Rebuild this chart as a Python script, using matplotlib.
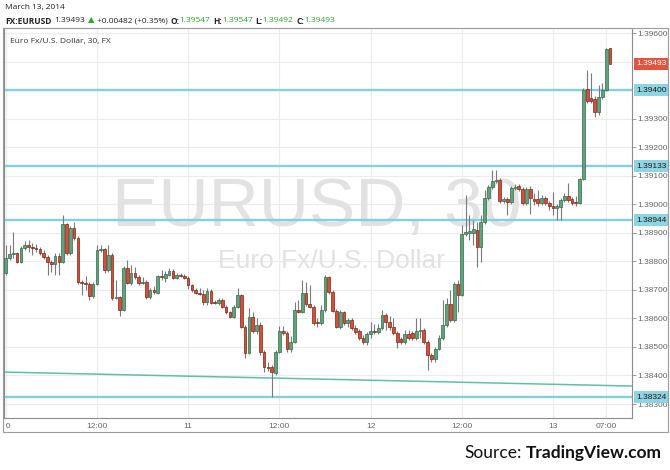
import matplotlib
matplotlib.use("Agg")
import matplotlib.pyplot as plt
import numpy as np
from matplotlib.patches import Rectangle
from matplotlib.lines import Line2D
from matplotlib.transforms import Bbox, TransformedBbox, blended_transform_factory

# 30 minute EUR/USD candles, 10 Mar 00:00 -> 13 Mar 07:30
opens = [
    1.38759, 1.38812, 1.38826, 1.38829, 1.38798, 1.38847, 1.38857, 1.38850, 1.38847, 1.38843,
    1.38829, 1.38815, 1.38798, 1.38791, 1.38819, 1.38798, 1.38931, 1.38829, 1.38917, 1.38882,
    1.38728, 1.38724, 1.38721, 1.38678, 1.38721, 1.38840, 1.38843, 1.38770, 1.38822, 1.38671,
    1.38675, 1.38629, 1.38777, 1.38724, 1.38759, 1.38745, 1.38724, 1.38728, 1.38675, 1.38700,
    1.38689, 1.38749, 1.38742, 1.38752, 1.38766, 1.38742, 1.38752, 1.38749, 1.38742, 1.38717,
    1.38700, 1.38689, 1.38685, 1.38657, 1.38696, 1.38657, 1.38654, 1.38664, 1.38640, 1.38622,
    1.38605, 1.38640, 1.38682, 1.38570, 1.38479, 1.38605, 1.38556, 1.38577, 1.38482, 1.38430,
    1.38430, 1.38409, 1.38482, 1.38556, 1.38549, 1.38493, 1.38517, 1.38629, 1.38622, 1.38689,
    1.38650, 1.38640, 1.38587, 1.38584, 1.38629, 1.38745, 1.38693, 1.38626, 1.38570, 1.38622,
    1.38584, 1.38594, 1.38566, 1.38556, 1.38531, 1.38517, 1.38545, 1.38556, 1.38552, 1.38566,
    1.38612, 1.38587, 1.38570, 1.38549, 1.38528, 1.38517, 1.38545, 1.38549, 1.38531, 1.38556,
    1.38559, 1.38517, 1.38472, 1.38458, 1.38493, 1.38531, 1.38577, 1.38650, 1.38594, 1.38721,
    1.38682, 1.38896, 1.38899, 1.38899, 1.38910, 1.38850, 1.38938, 1.39022, 1.39060, 1.39081,
    1.39085, 1.39011, 1.39018, 1.39008, 1.39057, 1.39064, 1.39053, 1.39004, 1.39053, 1.39018,
    1.39018, 1.39004, 1.39022, 1.39004, 1.38994, 1.38987, 1.38990, 1.39015, 1.39029, 1.39018,
    1.39008, 1.39004, 1.39088, 1.39404, 1.39372, 1.39369, 1.39323, 1.39376, 1.39400, 1.39547,
]
highs = [
    1.38857, 1.38857, 1.38903, 1.38833, 1.38854, 1.38871, 1.38875, 1.38864, 1.38861, 1.38850,
    1.38840, 1.38822, 1.38805, 1.38829, 1.38829, 1.38962, 1.38934, 1.38924, 1.38938, 1.38889,
    1.38735, 1.38749, 1.38728, 1.38728, 1.38857, 1.38857, 1.38847, 1.38857, 1.38829, 1.38735,
    1.38678, 1.38784, 1.38805, 1.38787, 1.38780, 1.38752, 1.38745, 1.38735, 1.38707, 1.38714,
    1.38752, 1.38770, 1.38766, 1.38777, 1.38773, 1.38759, 1.38759, 1.38756, 1.38749, 1.38721,
    1.38707, 1.38707, 1.38700, 1.38707, 1.38703, 1.38664, 1.38671, 1.38671, 1.38647, 1.38626,
    1.38647, 1.38707, 1.38685, 1.38577, 1.38636, 1.38622, 1.38601, 1.38587, 1.38489, 1.38447,
    1.38437, 1.38489, 1.38573, 1.38573, 1.38556, 1.38538, 1.38657, 1.38664, 1.38735, 1.38728,
    1.38717, 1.38647, 1.38601, 1.38647, 1.38752, 1.38749, 1.38700, 1.38633, 1.38629, 1.38626,
    1.38601, 1.38601, 1.38577, 1.38563, 1.38542, 1.38552, 1.38587, 1.38580, 1.38580, 1.38629,
    1.38619, 1.38608, 1.38601, 1.38556, 1.38535, 1.38559, 1.38559, 1.38556, 1.38601, 1.38601,
    1.38566, 1.38524, 1.38479, 1.38500, 1.38542, 1.38664, 1.38671, 1.38700, 1.38728, 1.38735,
    1.38927, 1.39032, 1.38962, 1.38945, 1.38938, 1.38962, 1.39050, 1.39067, 1.39120, 1.39120,
    1.39092, 1.39025, 1.39025, 1.39064, 1.39071, 1.39071, 1.39060, 1.39060, 1.39064, 1.39039,
    1.39050, 1.39032, 1.39029, 1.39011, 1.39043, 1.39001, 1.39022, 1.39039, 1.39074, 1.39025,
    1.39029, 1.39092, 1.39407, 1.39470, 1.39460, 1.39379, 1.39418, 1.39425, 1.39547, 1.39547,
]
lows = [
    1.38752, 1.38805, 1.38812, 1.38794, 1.38794, 1.38840, 1.38833, 1.38822, 1.38833, 1.38822,
    1.38808, 1.38752, 1.38763, 1.38752, 1.38752, 1.38794, 1.38822, 1.38822, 1.38875, 1.38721,
    1.38682, 1.38700, 1.38664, 1.38671, 1.38717, 1.38833, 1.38759, 1.38763, 1.38664, 1.38668,
    1.38608, 1.38626, 1.38721, 1.38717, 1.38738, 1.38717, 1.38721, 1.38668, 1.38668, 1.38685,
    1.38685, 1.38735, 1.38728, 1.38749, 1.38738, 1.38738, 1.38745, 1.38738, 1.38703, 1.38693,
    1.38685, 1.38682, 1.38647, 1.38647, 1.38650, 1.38650, 1.38647, 1.38636, 1.38615, 1.38601,
    1.38601, 1.38636, 1.38566, 1.38461, 1.38475, 1.38549, 1.38545, 1.38472, 1.38412, 1.38416,
    1.38325, 1.38402, 1.38479, 1.38542, 1.38482, 1.38482, 1.38514, 1.38619, 1.38619, 1.38643,
    1.38636, 1.38577, 1.38570, 1.38577, 1.38622, 1.38685, 1.38622, 1.38566, 1.38563, 1.38577,
    1.38570, 1.38559, 1.38545, 1.38524, 1.38510, 1.38507, 1.38531, 1.38545, 1.38545, 1.38559,
    1.38559, 1.38559, 1.38542, 1.38496, 1.38510, 1.38510, 1.38524, 1.38524, 1.38524, 1.38531,
    1.38510, 1.38419, 1.38447, 1.38447, 1.38489, 1.38524, 1.38570, 1.38587, 1.38587, 1.38622,
    1.38678, 1.38889, 1.38875, 1.38857, 1.38780, 1.38798, 1.38931, 1.39015, 1.39053, 1.39074,
    1.39004, 1.39004, 1.38962, 1.39001, 1.39050, 1.39046, 1.38997, 1.38997, 1.38966, 1.38997,
    1.38994, 1.38997, 1.38997, 1.38980, 1.38962, 1.38945, 1.38945, 1.39008, 1.39008, 1.38997,
    1.38994, 1.39001, 1.39085, 1.39355, 1.39355, 1.39306, 1.39313, 1.39369, 1.39397, 1.39492,
]
closes = [
    1.38812, 1.38826, 1.38829, 1.38798, 1.38847, 1.38857, 1.38850, 1.38847, 1.38843, 1.38829,
    1.38815, 1.38798, 1.38791, 1.38819, 1.38798, 1.38931, 1.38829, 1.38917, 1.38882, 1.38728,
    1.38724, 1.38721, 1.38678, 1.38721, 1.38840, 1.38843, 1.38770, 1.38822, 1.38671, 1.38675,
    1.38629, 1.38777, 1.38724, 1.38759, 1.38745, 1.38724, 1.38728, 1.38675, 1.38700, 1.38693,
    1.38749, 1.38745, 1.38756, 1.38766, 1.38742, 1.38752, 1.38749, 1.38742, 1.38717, 1.38700,
    1.38689, 1.38685, 1.38657, 1.38696, 1.38654, 1.38654, 1.38664, 1.38640, 1.38622, 1.38605,
    1.38640, 1.38682, 1.38570, 1.38479, 1.38605, 1.38556, 1.38577, 1.38482, 1.38430, 1.38426,
    1.38412, 1.38482, 1.38556, 1.38549, 1.38493, 1.38517, 1.38629, 1.38622, 1.38689, 1.38650,
    1.38640, 1.38584, 1.38584, 1.38629, 1.38745, 1.38693, 1.38626, 1.38570, 1.38622, 1.38584,
    1.38594, 1.38566, 1.38552, 1.38531, 1.38517, 1.38545, 1.38556, 1.38552, 1.38566, 1.38612,
    1.38587, 1.38570, 1.38549, 1.38517, 1.38517, 1.38545, 1.38531, 1.38531, 1.38556, 1.38559,
    1.38517, 1.38472, 1.38458, 1.38493, 1.38531, 1.38577, 1.38650, 1.38594, 1.38721, 1.38682,
    1.38896, 1.38903, 1.38906, 1.38913, 1.38850, 1.38938, 1.39022, 1.39060, 1.39081, 1.39085,
    1.39011, 1.39018, 1.39008, 1.39057, 1.39060, 1.39053, 1.39004, 1.39053, 1.39022, 1.39011,
    1.39004, 1.39022, 1.39004, 1.38994, 1.38987, 1.38994, 1.39015, 1.39029, 1.39015, 1.39004,
    1.39004, 1.39088, 1.39400, 1.39362, 1.39362, 1.39323, 1.39376, 1.39400, 1.39544, 1.39493,
]

levels = [1.39400, 1.39133, 1.38944, 1.38324]
trend_line = [1.38412, 1.38363]
price_ticks = [1.383, 1.384, 1.385, 1.386, 1.387, 1.388, 1.389,
               1.390, 1.391, 1.392, 1.393, 1.394, 1.395, 1.396]
time_ticks = [0, 24, 48, 72, 96, 120, 144, 158]
time_labels = ['10', '12:00', '11', '12:00', '12', '12:00', '13', '07:00']
day_change, day_change_pct = 0.00482, 0.35

UP_FILL, UP_EDGE = '#63a27c', '#2f6b46'
DN_FILL, DN_EDGE = '#d4503b', '#7d2416'
LEVEL_C = '#84d0df'
GREEN_TXT = '#33a333'
W, H = 670, 470

fig = plt.figure(figsize=(W / 100, H / 100), dpi=100)
fig.patch.set_facecolor('white')


def fx(px):
    return px / W


def fy(py):
    return 1 - py / H


ax = fig.add_axes([fx(4), fy(418), fx(628), 390 / H])
ax.set_xlim(-0.45, 164.8)
ax.set_ylim(1.38251, 1.39618)

# grid
for t in time_ticks:
    ax.axvline(t, color='#ececec', lw=0.8, zorder=0)
for p in price_ticks:
    ax.axhline(p, color='#ececec', lw=0.8, zorder=0)

# watermark
ax.text(0.498, 0.492, 'EURUSD, 30', transform=ax.transAxes, ha='center', va='baseline',
        fontsize=50, color='#e2e2e2', family='Liberation Sans', zorder=0.5)
ax.text(0.522, 0.385, 'Euro Fx/U.S. Dollar', transform=ax.transAxes, ha='center', va='baseline',
        fontsize=19, color='#e2e2e2', family='Liberation Sans', zorder=0.5)

# support / resistance lines and trend line
for lv in levels:
    ax.axhline(lv, color=LEVEL_C, lw=1.7, zorder=1.5)
x0, x1 = ax.get_xlim()
ax.add_line(Line2D([x0, x1], trend_line, color='#5fc0a6', lw=1.1, zorder=1.5))

# candles
o = np.array(opens)
h = np.array(highs)
l = np.array(lows)
c = np.array(closes)
idx = np.arange(len(c))
up = c >= o
ax.vlines(idx, l, h, color='#7a7a7a', lw=0.8, zorder=2)
lo = np.minimum(o, c)
ht = np.maximum(np.abs(c - o), 0.000012)
ax.bar(idx[up], ht[up], bottom=lo[up], width=0.72, color=UP_FILL, edgecolor=UP_EDGE,
       linewidth=0.5, zorder=3)
ax.bar(idx[~up], ht[~up], bottom=lo[~up], width=0.72, color=DN_FILL, edgecolor=DN_EDGE,
       linewidth=0.5, zorder=3)

# axes styling
for side in ['left', 'right', 'bottom', 'top']:
    ax.spines[side].set_color('#8c8c8c')
    ax.spines[side].set_linewidth(0.8)
ax.spines['top'].set_color('#bdbdbd')
ax.set_xticks([])
ax.yaxis.tick_right()
# labels hidden behind the level boxes and the last price box are left out
shown = [p for p in price_ticks if p not in levels and abs(p - closes[-1]) > 0.0002]
ax.set_yticks(shown)
ax.set_yticklabels(['%.5f' % p for p in shown])
ax.tick_params(axis='y', direction='out', length=3, width=0.6, color='#8c8c8c',
               labelsize=6, labelcolor='#666666', pad=1)
for lbl in ax.get_yticklabels():
    lbl.set_family('Liberation Sans')

# time labels under the chart
tb = blended_transform_factory(ax.transData, fig.transFigure)
clip = TransformedBbox(Bbox.from_extents(fx(5.5), 0, 1, 1), fig.transFigure)
for t, s in zip(time_ticks, time_labels):
    txt = fig.text(t, fy(427), s, transform=tb, ha='center', va='center', fontsize=6,
                   color='#666666', family='Liberation Sans')
    txt.set_clip_on(True)
    txt.set_clip_box(clip)

# price labels on the right scale
yb = blended_transform_factory(ax.transAxes, ax.transData)
for lv in levels:
    ax.annotate('%.5f' % lv, xy=(1, lv), xycoords=yb, xytext=(4, 0), textcoords='offset pixels',
                ha='left', va='center', fontsize=6, color='#1a1a1a', family='Liberation Sans',
                annotation_clip=False, zorder=6,
                bbox=dict(boxstyle='square,pad=0.3', fc='#8fd4e2', ec='none'))
ax.annotate('%.5f' % closes[-1], xy=(1, closes[-1]), xycoords=yb, xytext=(4, 0),
            textcoords='offset pixels', ha='left', va='center', fontsize=6, color='white',
            family='Liberation Sans', annotation_clip=False, zorder=6,
            bbox=dict(boxstyle='square,pad=0.3', fc='#df5540', ec='none'))

# outer frame
fig.add_artist(Rectangle((fx(3), fy(432)), fx(665), 404 / H, transform=fig.transFigure,
                         fill=False, ec='#9a9a9a', lw=0.8))

# header
hdr = dict(family=['Open Sans', 'DejaVu Sans'], fontsize=6)
fig.text(fx(5), fy(7), 'March 13, 2014', va='center', color='#222222', **hdr)
parts = [
    ('FX:EURUSD', '#222222', 'bold', 0),
    ('%.5f' % closes[-1], '#222222', 'normal', 3),
    ('\u25b2', GREEN_TXT, 'normal', 3),
    ('+%.5f (+%.2f%%)' % (day_change, day_change_pct), '#222222', 'normal', 2),
    ('O:', '#222222', 'bold', 3), ('%.5f' % opens[-1], GREEN_TXT, 'normal', 0),
    ('H:', '#222222', 'bold', 3), ('%.5f' % highs[-1], GREEN_TXT, 'normal', 0),
    ('L:', '#222222', 'bold', 3), ('%.5f' % lows[-1], GREEN_TXT, 'normal', 0),
    ('C:', '#222222', 'bold', 3), ('%.5f' % closes[-1], GREEN_TXT, 'normal', 0),
]
prev = fig.text(fx(5), fy(21), parts[0][0], va='center', color=parts[0][1],
                fontweight=parts[0][2], **hdr)
for s, col, wt, gap in parts[1:]:
    prev = ax.annotate(s, xy=(1, 0.5), xycoords=prev, xytext=(gap, 0),
                       textcoords='offset pixels', ha='left', va='center', color=col,
                       fontweight=wt, annotation_clip=False, **hdr)

fig.text(fx(10), fy(41), 'Euro Fx/U.S. Dollar, 30, FX', va='center', color='#333333', **hdr)

# source note
src = fig.text(fx(662), fy(458), 'TradingView.com', ha='right', va='baseline',
               fontsize=12.5, fontweight='bold', family='Lato', color='#111111')
ax.annotate('Source:', xy=(0, 0), xycoords=src, xytext=(-4, 0), textcoords='offset pixels',
            ha='right', va='bottom', fontsize=12.5, family='Lato', color='#111111',
            annotation_clip=False)

fig.savefig('out.png', dpi=100)
